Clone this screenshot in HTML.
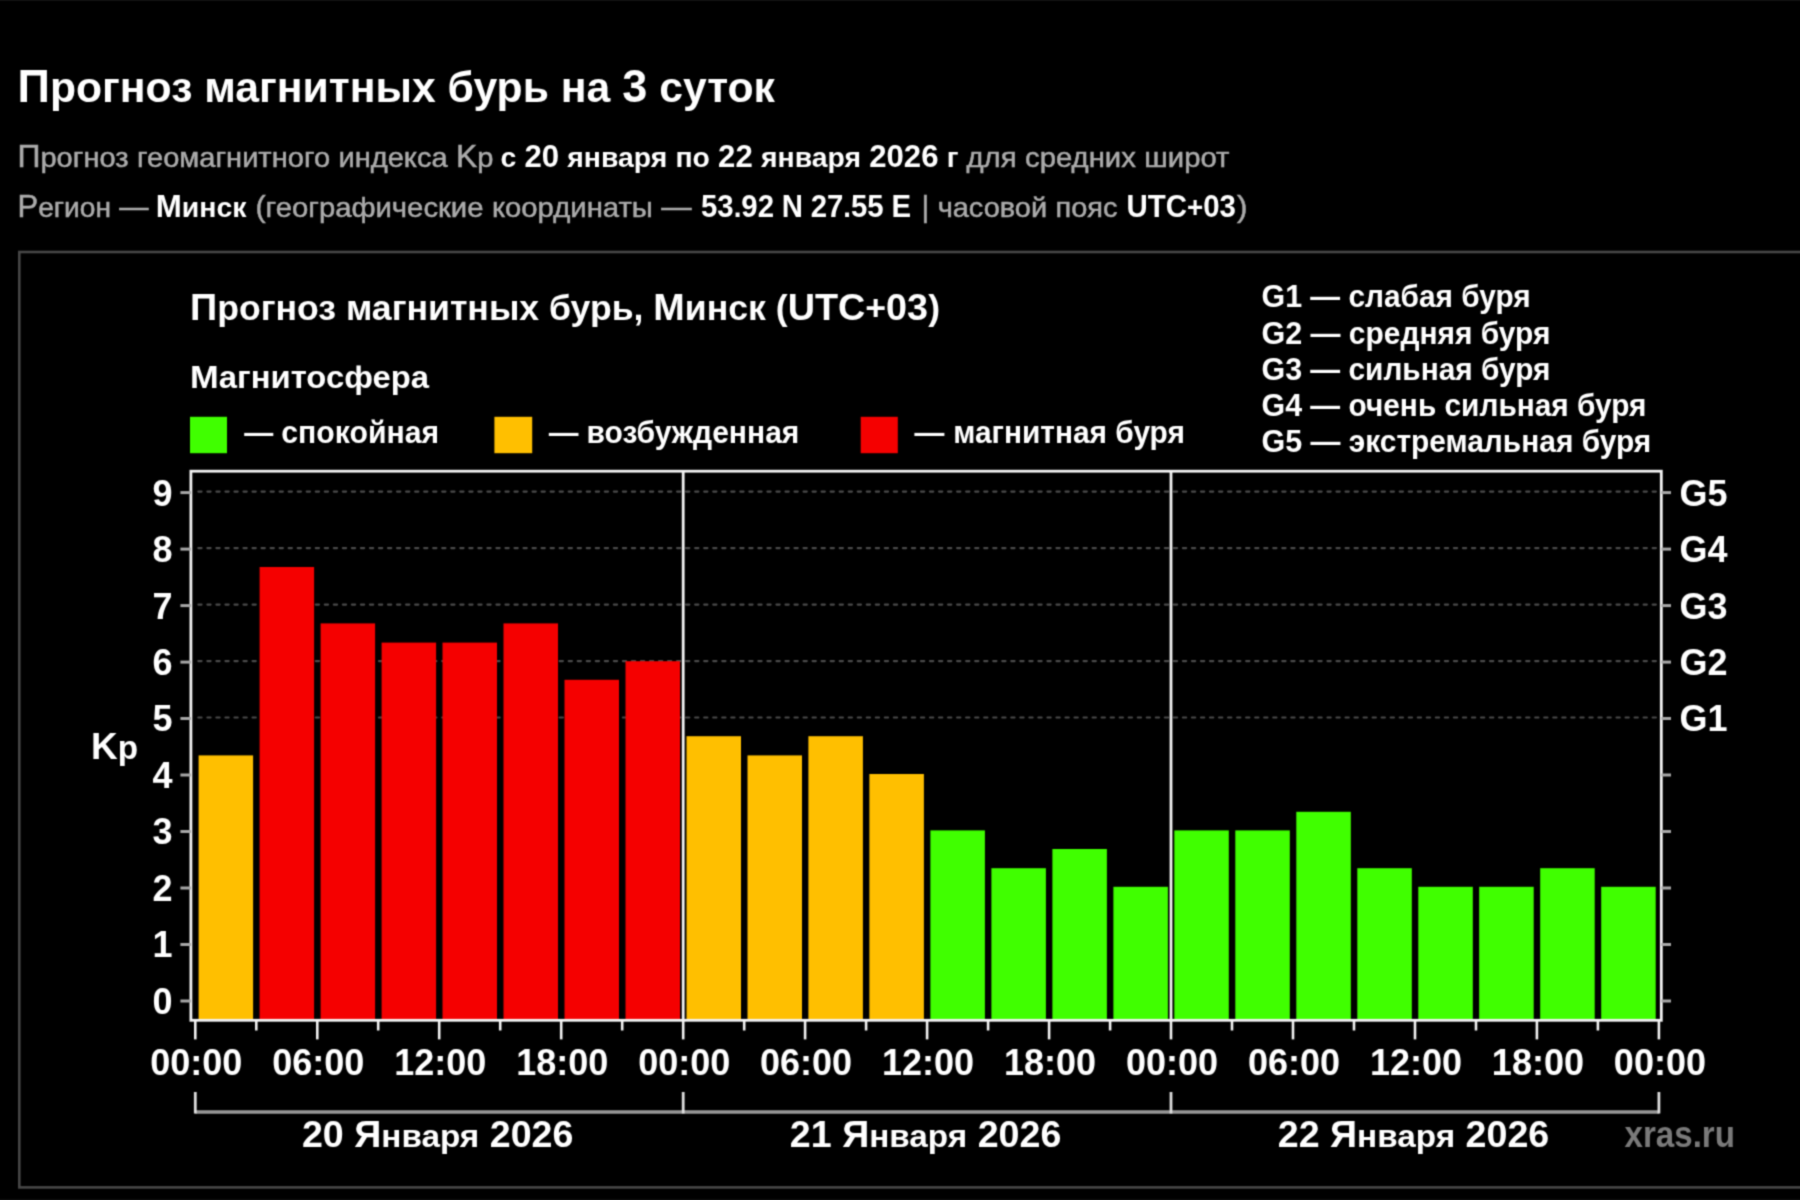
<!DOCTYPE html>
<html lang="ru"><head><meta charset="utf-8"><title>Прогноз магнитных бурь на 3 суток</title>
<style>
html,body{margin:0;padding:0;background:#000;width:1800px;height:1200px;overflow:hidden}
svg{display:block;font-family:'Liberation Sans', Arial, sans-serif;}
</style></head><body>
<svg width="1800" height="1200" viewBox="0 0 1800 1200">
<defs><filter id="soft" x="0" y="0" width="1800" height="1200" filterUnits="userSpaceOnUse" color-interpolation-filters="sRGB"><feConvolveMatrix order="3" kernelMatrix="0.036 0.118 0.036 0.118 0.384 0.118 0.036 0.118 0.036" divisor="1" edgeMode="duplicate"/></filter></defs>
<g filter="url(#soft)">
<rect x="0" y="0" width="1800" height="1200" fill="#000"/>
<rect x="0" y="0" width="1800" height="1" fill="#121212"/>
<rect x="0" y="1199" width="1800" height="1" fill="#0e0e0e"/>
<rect x="19.3" y="252" width="2000" height="935.4" fill="none" stroke="#464646" stroke-width="2.6"/>
<text x="17.5" y="101.8" font-size="43" font-weight="bold" fill="#fff" text-anchor="start" textLength="757.5" lengthAdjust="spacingAndGlyphs"><tspan font-size="45.36">П</tspan>рогноз магнитных бурь на <tspan font-size="45.36">3</tspan> суток</text>
<text x="17.5" y="167.2" font-size="29" font-weight="normal" fill="#ababab" text-anchor="start" textLength="476.0" lengthAdjust="spacingAndGlyphs" stroke="#ababab" stroke-width="0.5"><tspan font-size="30.74">П</tspan><tspan font-size="27.98">рогноз</tspan> <tspan font-size="27.98">геомагнитного</tspan> <tspan font-size="27.98">индекса</tspan> <tspan font-size="30.74">K</tspan><tspan font-size="27.98">p</tspan></text>
<text x="500.5" y="167.2" font-size="29" font-weight="bold" fill="#fff" text-anchor="start" textLength="458.0" lengthAdjust="spacingAndGlyphs"><tspan font-size="27.98">с</tspan> <tspan font-size="30.74">20</tspan> <tspan font-size="27.98">января</tspan> <tspan font-size="27.98">по</tspan> <tspan font-size="30.74">22</tspan> <tspan font-size="27.98">января</tspan> <tspan font-size="30.74">2026</tspan> <tspan font-size="27.98">г</tspan></text>
<text x="966.5" y="167.2" font-size="29" font-weight="normal" fill="#ababab" text-anchor="start" textLength="263.0" lengthAdjust="spacingAndGlyphs" stroke="#ababab" stroke-width="0.5"><tspan font-size="27.98">для</tspan> <tspan font-size="27.98">средних</tspan> <tspan font-size="27.98">широт</tspan></text>
<text x="17.5" y="216.8" font-size="29" font-weight="normal" fill="#ababab" text-anchor="start" textLength="131.0" lengthAdjust="spacingAndGlyphs" stroke="#ababab" stroke-width="0.5"><tspan font-size="30.74">Р</tspan><tspan font-size="27.98">егион</tspan> —</text>
<text x="155.7" y="216.8" font-size="29" font-weight="bold" fill="#fff" text-anchor="start" textLength="90.8" lengthAdjust="spacingAndGlyphs"><tspan font-size="30.74">М</tspan><tspan font-size="27.98">инск</tspan></text>
<text x="255.5" y="216.8" font-size="29" font-weight="normal" fill="#ababab" text-anchor="start" textLength="436.2" lengthAdjust="spacingAndGlyphs" stroke="#ababab" stroke-width="0.5">(<tspan font-size="27.98">географические</tspan> <tspan font-size="27.98">координаты</tspan> —</text>
<text x="701.0" y="216.8" font-size="29" font-weight="bold" fill="#fff" text-anchor="start" textLength="210.0" lengthAdjust="spacingAndGlyphs"><tspan font-size="30.74">53</tspan>.<tspan font-size="30.74">92</tspan> <tspan font-size="30.74">N</tspan> <tspan font-size="30.74">27</tspan>.<tspan font-size="30.74">55</tspan> <tspan font-size="30.74">E</tspan></text>
<text x="921.5" y="216.8" font-size="29" font-weight="normal" fill="#ababab" text-anchor="start" textLength="196.0" lengthAdjust="spacingAndGlyphs" stroke="#ababab" stroke-width="0.5">| <tspan font-size="27.98">часовой</tspan> <tspan font-size="27.98">пояс</tspan></text>
<text x="1126.5" y="216.8" font-size="29" font-weight="bold" fill="#fff" text-anchor="start" textLength="109.5" lengthAdjust="spacingAndGlyphs"><tspan font-size="30.74">UTC</tspan>+<tspan font-size="30.74">03</tspan></text>
<text x="1237.0" y="216.8" font-size="29" font-weight="normal" fill="#ababab" text-anchor="start" textLength="10.5" lengthAdjust="spacingAndGlyphs" stroke="#ababab" stroke-width="0.5">)</text>
<text x="190.0" y="320.0" font-size="35.5" font-weight="bold" fill="#fff" text-anchor="start" textLength="750.0" lengthAdjust="spacingAndGlyphs"><tspan font-size="37.63">П</tspan>рогноз магнитных бурь, <tspan font-size="37.63">М</tspan>инск (<tspan font-size="37.63">UTC</tspan>+<tspan font-size="37.63">03</tspan>)</text>
<text x="190.0" y="388.3" font-size="30.5" font-weight="bold" fill="#fff" text-anchor="start" textLength="239.0" lengthAdjust="spacingAndGlyphs"><tspan font-size="32.02">М</tspan>агнитосфера</text>
<rect x="190" y="416.8" width="37.0" height="36.4" fill="#40ff00"/>
<rect x="494.4" y="416.8" width="37.8" height="36.4" fill="#ffbf00"/>
<rect x="860.7" y="416.8" width="37.1" height="36.4" fill="#f50000"/>
<rect x="244.2" y="432.9" width="29.1" height="3.1" fill="#fff"/>
<text x="281.3" y="442.5" font-size="31" font-weight="bold" fill="#fff" text-anchor="start" textLength="157.8" lengthAdjust="spacingAndGlyphs">спокойная</text>
<rect x="548.8" y="432.9" width="29.7" height="3.1" fill="#fff"/>
<text x="586.4" y="442.5" font-size="31" font-weight="bold" fill="#fff" text-anchor="start" textLength="213.0" lengthAdjust="spacingAndGlyphs">возбужденная</text>
<rect x="914.4" y="432.9" width="30.0" height="3.1" fill="#fff"/>
<text x="953.2" y="442.5" font-size="31" font-weight="bold" fill="#fff" text-anchor="start" textLength="231.7" lengthAdjust="spacingAndGlyphs">магнитная буря</text>
<text x="1261.5" y="307.4" font-size="30.5" font-weight="bold" fill="#fff" text-anchor="start" textLength="269.2" lengthAdjust="spacingAndGlyphs"><tspan font-size="31.11">G1</tspan> — слабая буря</text>
<text x="1261.5" y="343.5" font-size="30.5" font-weight="bold" fill="#fff" text-anchor="start" textLength="289.0" lengthAdjust="spacingAndGlyphs"><tspan font-size="31.11">G2</tspan> — средняя буря</text>
<text x="1261.5" y="379.6" font-size="30.5" font-weight="bold" fill="#fff" text-anchor="start" textLength="289.0" lengthAdjust="spacingAndGlyphs"><tspan font-size="31.11">G3</tspan> — сильная буря</text>
<text x="1261.5" y="415.7" font-size="30.5" font-weight="bold" fill="#fff" text-anchor="start" textLength="385.0" lengthAdjust="spacingAndGlyphs"><tspan font-size="31.11">G4</tspan> — очень сильная буря</text>
<text x="1261.5" y="451.8" font-size="30.5" font-weight="bold" fill="#fff" text-anchor="start" textLength="389.8" lengthAdjust="spacingAndGlyphs"><tspan font-size="31.11">G5</tspan> — экстремальная буря</text>
<line x1="198.35" y1="717.5" x2="1657.3" y2="717.5" stroke="#4a4a4a" stroke-width="2.2" stroke-linecap="round" stroke-dasharray="3.2 5.833"/>
<line x1="198.35" y1="661.1" x2="1657.3" y2="661.1" stroke="#4a4a4a" stroke-width="2.2" stroke-linecap="round" stroke-dasharray="3.2 5.833"/>
<line x1="198.35" y1="604.6" x2="1657.3" y2="604.6" stroke="#4a4a4a" stroke-width="2.2" stroke-linecap="round" stroke-dasharray="3.2 5.833"/>
<line x1="198.35" y1="548.1" x2="1657.3" y2="548.1" stroke="#4a4a4a" stroke-width="2.2" stroke-linecap="round" stroke-dasharray="3.2 5.833"/>
<line x1="198.35" y1="491.6" x2="1657.3" y2="491.6" stroke="#4a4a4a" stroke-width="2.2" stroke-linecap="round" stroke-dasharray="3.2 5.833"/>
<rect x="198.6" y="755.4" width="54.5" height="263.6" fill="#ffbf00"/>
<rect x="259.6" y="567.0" width="54.5" height="452.0" fill="#f50000"/>
<rect x="320.6" y="623.4" width="54.5" height="395.6" fill="#f50000"/>
<rect x="381.6" y="642.6" width="54.5" height="376.4" fill="#f50000"/>
<rect x="442.5" y="642.6" width="54.5" height="376.4" fill="#f50000"/>
<rect x="503.5" y="623.4" width="54.5" height="395.6" fill="#f50000"/>
<rect x="564.5" y="679.8" width="54.5" height="339.2" fill="#f50000"/>
<rect x="625.5" y="661.2" width="54.5" height="357.8" fill="#f50000"/>
<rect x="686.5" y="736.2" width="54.5" height="282.8" fill="#ffbf00"/>
<rect x="747.5" y="755.4" width="54.5" height="263.6" fill="#ffbf00"/>
<rect x="808.4" y="736.2" width="54.5" height="282.8" fill="#ffbf00"/>
<rect x="869.4" y="774.0" width="54.5" height="245.0" fill="#ffbf00"/>
<rect x="930.4" y="830.4" width="54.5" height="188.6" fill="#40ff00"/>
<rect x="991.4" y="868.2" width="54.5" height="150.8" fill="#40ff00"/>
<rect x="1052.4" y="849.0" width="54.5" height="170.0" fill="#40ff00"/>
<rect x="1113.4" y="886.8" width="54.5" height="132.2" fill="#40ff00"/>
<rect x="1174.3" y="830.4" width="54.5" height="188.6" fill="#40ff00"/>
<rect x="1235.3" y="830.4" width="54.5" height="188.6" fill="#40ff00"/>
<rect x="1296.3" y="811.8" width="54.5" height="207.2" fill="#40ff00"/>
<rect x="1357.3" y="868.2" width="54.5" height="150.8" fill="#40ff00"/>
<rect x="1418.3" y="886.8" width="54.5" height="132.2" fill="#40ff00"/>
<rect x="1479.2" y="886.8" width="54.5" height="132.2" fill="#40ff00"/>
<rect x="1540.2" y="868.2" width="54.5" height="150.8" fill="#40ff00"/>
<rect x="1601.2" y="886.8" width="54.5" height="132.2" fill="#40ff00"/>
<line x1="683.2" y1="471.2" x2="683.2" y2="1020.3" stroke="#f2f2f2" stroke-width="2.8"/>
<line x1="1171.0" y1="471.2" x2="1171.0" y2="1020.3" stroke="#f2f2f2" stroke-width="2.8"/>
<rect x="190.9" y="471.2" width="1470.4" height="549.1" fill="none" stroke="#f2f2f2" stroke-width="2.8"/>
<line x1="180.4" y1="1001.0" x2="190.9" y2="1001.0" stroke="#a6a6a6" stroke-width="3"/>
<line x1="1661.3" y1="1001.0" x2="1671" y2="1001.0" stroke="#a6a6a6" stroke-width="3"/>
<text x="172.5" y="1013.9" font-size="36" font-weight="bold" fill="#fff" text-anchor="end">0</text>
<line x1="180.4" y1="944.5" x2="190.9" y2="944.5" stroke="#a6a6a6" stroke-width="3"/>
<line x1="1661.3" y1="944.5" x2="1671" y2="944.5" stroke="#a6a6a6" stroke-width="3"/>
<text x="172.5" y="957.4" font-size="36" font-weight="bold" fill="#fff" text-anchor="end">1</text>
<line x1="180.4" y1="888.0" x2="190.9" y2="888.0" stroke="#a6a6a6" stroke-width="3"/>
<line x1="1661.3" y1="888.0" x2="1671" y2="888.0" stroke="#a6a6a6" stroke-width="3"/>
<text x="172.5" y="900.9" font-size="36" font-weight="bold" fill="#fff" text-anchor="end">2</text>
<line x1="180.4" y1="831.5" x2="190.9" y2="831.5" stroke="#a6a6a6" stroke-width="3"/>
<line x1="1661.3" y1="831.5" x2="1671" y2="831.5" stroke="#a6a6a6" stroke-width="3"/>
<text x="172.5" y="844.4" font-size="36" font-weight="bold" fill="#fff" text-anchor="end">3</text>
<line x1="180.4" y1="775.0" x2="190.9" y2="775.0" stroke="#a6a6a6" stroke-width="3"/>
<line x1="1661.3" y1="775.0" x2="1671" y2="775.0" stroke="#a6a6a6" stroke-width="3"/>
<text x="172.5" y="787.9" font-size="36" font-weight="bold" fill="#fff" text-anchor="end">4</text>
<line x1="180.4" y1="718.5" x2="190.9" y2="718.5" stroke="#a6a6a6" stroke-width="3"/>
<line x1="1661.3" y1="718.5" x2="1671" y2="718.5" stroke="#a6a6a6" stroke-width="3"/>
<text x="172.5" y="731.4" font-size="36" font-weight="bold" fill="#fff" text-anchor="end">5</text>
<line x1="180.4" y1="662.1" x2="190.9" y2="662.1" stroke="#a6a6a6" stroke-width="3"/>
<line x1="1661.3" y1="662.1" x2="1671" y2="662.1" stroke="#a6a6a6" stroke-width="3"/>
<text x="172.5" y="675.0" font-size="36" font-weight="bold" fill="#fff" text-anchor="end">6</text>
<line x1="180.4" y1="605.6" x2="190.9" y2="605.6" stroke="#a6a6a6" stroke-width="3"/>
<line x1="1661.3" y1="605.6" x2="1671" y2="605.6" stroke="#a6a6a6" stroke-width="3"/>
<text x="172.5" y="618.5" font-size="36" font-weight="bold" fill="#fff" text-anchor="end">7</text>
<line x1="180.4" y1="549.1" x2="190.9" y2="549.1" stroke="#a6a6a6" stroke-width="3"/>
<line x1="1661.3" y1="549.1" x2="1671" y2="549.1" stroke="#a6a6a6" stroke-width="3"/>
<text x="172.5" y="562.0" font-size="36" font-weight="bold" fill="#fff" text-anchor="end">8</text>
<line x1="180.4" y1="492.6" x2="190.9" y2="492.6" stroke="#a6a6a6" stroke-width="3"/>
<line x1="1661.3" y1="492.6" x2="1671" y2="492.6" stroke="#a6a6a6" stroke-width="3"/>
<text x="172.5" y="505.5" font-size="36" font-weight="bold" fill="#fff" text-anchor="end">9</text>
<text x="1679.5" y="731.4" font-size="36" font-weight="bold" fill="#fff" text-anchor="start">G1</text>
<text x="1679.5" y="675.0" font-size="36" font-weight="bold" fill="#fff" text-anchor="start">G2</text>
<text x="1679.5" y="618.5" font-size="36" font-weight="bold" fill="#fff" text-anchor="start">G3</text>
<text x="1679.5" y="562.0" font-size="36" font-weight="bold" fill="#fff" text-anchor="start">G4</text>
<text x="1679.5" y="505.5" font-size="36" font-weight="bold" fill="#fff" text-anchor="start">G5</text>
<text x="91.0" y="759.0" font-size="36" font-weight="bold" fill="#fff" text-anchor="start" textLength="47.0" lengthAdjust="spacingAndGlyphs">K<tspan font-size="32.40">p</tspan></text>
<line x1="195.3" y1="1020.3" x2="195.3" y2="1039.4" stroke="#f2f2f2" stroke-width="2.6"/>
<text x="196.3" y="1074.5" font-size="36" font-weight="bold" fill="#fff" text-anchor="middle">00:00</text>
<line x1="256.3" y1="1020.3" x2="256.3" y2="1030.5" stroke="#f2f2f2" stroke-width="2.6"/>
<line x1="317.3" y1="1020.3" x2="317.3" y2="1039.4" stroke="#f2f2f2" stroke-width="2.6"/>
<text x="318.3" y="1074.5" font-size="36" font-weight="bold" fill="#fff" text-anchor="middle">06:00</text>
<line x1="378.2" y1="1020.3" x2="378.2" y2="1030.5" stroke="#f2f2f2" stroke-width="2.6"/>
<line x1="439.2" y1="1020.3" x2="439.2" y2="1039.4" stroke="#f2f2f2" stroke-width="2.6"/>
<text x="440.2" y="1074.5" font-size="36" font-weight="bold" fill="#fff" text-anchor="middle">12:00</text>
<line x1="500.2" y1="1020.3" x2="500.2" y2="1030.5" stroke="#f2f2f2" stroke-width="2.6"/>
<line x1="561.2" y1="1020.3" x2="561.2" y2="1039.4" stroke="#f2f2f2" stroke-width="2.6"/>
<text x="562.2" y="1074.5" font-size="36" font-weight="bold" fill="#fff" text-anchor="middle">18:00</text>
<line x1="622.2" y1="1020.3" x2="622.2" y2="1030.5" stroke="#f2f2f2" stroke-width="2.6"/>
<line x1="683.2" y1="1020.3" x2="683.2" y2="1039.4" stroke="#f2f2f2" stroke-width="2.6"/>
<text x="684.2" y="1074.5" font-size="36" font-weight="bold" fill="#fff" text-anchor="middle">00:00</text>
<line x1="744.2" y1="1020.3" x2="744.2" y2="1030.5" stroke="#f2f2f2" stroke-width="2.6"/>
<line x1="805.1" y1="1020.3" x2="805.1" y2="1039.4" stroke="#f2f2f2" stroke-width="2.6"/>
<text x="806.1" y="1074.5" font-size="36" font-weight="bold" fill="#fff" text-anchor="middle">06:00</text>
<line x1="866.1" y1="1020.3" x2="866.1" y2="1030.5" stroke="#f2f2f2" stroke-width="2.6"/>
<line x1="927.1" y1="1020.3" x2="927.1" y2="1039.4" stroke="#f2f2f2" stroke-width="2.6"/>
<text x="928.1" y="1074.5" font-size="36" font-weight="bold" fill="#fff" text-anchor="middle">12:00</text>
<line x1="988.1" y1="1020.3" x2="988.1" y2="1030.5" stroke="#f2f2f2" stroke-width="2.6"/>
<line x1="1049.1" y1="1020.3" x2="1049.1" y2="1039.4" stroke="#f2f2f2" stroke-width="2.6"/>
<text x="1050.1" y="1074.5" font-size="36" font-weight="bold" fill="#fff" text-anchor="middle">18:00</text>
<line x1="1110.1" y1="1020.3" x2="1110.1" y2="1030.5" stroke="#f2f2f2" stroke-width="2.6"/>
<line x1="1171.0" y1="1020.3" x2="1171.0" y2="1039.4" stroke="#f2f2f2" stroke-width="2.6"/>
<text x="1172.0" y="1074.5" font-size="36" font-weight="bold" fill="#fff" text-anchor="middle">00:00</text>
<line x1="1232.0" y1="1020.3" x2="1232.0" y2="1030.5" stroke="#f2f2f2" stroke-width="2.6"/>
<line x1="1293.0" y1="1020.3" x2="1293.0" y2="1039.4" stroke="#f2f2f2" stroke-width="2.6"/>
<text x="1294.0" y="1074.5" font-size="36" font-weight="bold" fill="#fff" text-anchor="middle">06:00</text>
<line x1="1354.0" y1="1020.3" x2="1354.0" y2="1030.5" stroke="#f2f2f2" stroke-width="2.6"/>
<line x1="1415.0" y1="1020.3" x2="1415.0" y2="1039.4" stroke="#f2f2f2" stroke-width="2.6"/>
<text x="1416.0" y="1074.5" font-size="36" font-weight="bold" fill="#fff" text-anchor="middle">12:00</text>
<line x1="1476.0" y1="1020.3" x2="1476.0" y2="1030.5" stroke="#f2f2f2" stroke-width="2.6"/>
<line x1="1536.9" y1="1020.3" x2="1536.9" y2="1039.4" stroke="#f2f2f2" stroke-width="2.6"/>
<text x="1537.9" y="1074.5" font-size="36" font-weight="bold" fill="#fff" text-anchor="middle">18:00</text>
<line x1="1597.9" y1="1020.3" x2="1597.9" y2="1030.5" stroke="#f2f2f2" stroke-width="2.6"/>
<line x1="1658.9" y1="1020.3" x2="1658.9" y2="1039.4" stroke="#f2f2f2" stroke-width="2.6"/>
<text x="1659.9" y="1074.5" font-size="36" font-weight="bold" fill="#fff" text-anchor="middle">00:00</text>
<line x1="195.3" y1="1112" x2="683.2" y2="1112" stroke="#979797" stroke-width="3.6"/>
<text x="437.7" y="1147.0" font-size="36" font-weight="bold" fill="#fff" text-anchor="middle" textLength="271.5" lengthAdjust="spacingAndGlyphs">20 Я<tspan font-size="31.86">нваря</tspan> 2026</text>
<line x1="683.2" y1="1112" x2="1171.0" y2="1112" stroke="#979797" stroke-width="3.6"/>
<text x="925.6" y="1147.0" font-size="36" font-weight="bold" fill="#fff" text-anchor="middle" textLength="271.5" lengthAdjust="spacingAndGlyphs">21 Я<tspan font-size="31.86">нваря</tspan> 2026</text>
<line x1="1171.0" y1="1112" x2="1658.9" y2="1112" stroke="#979797" stroke-width="3.6"/>
<text x="1413.5" y="1147.0" font-size="36" font-weight="bold" fill="#fff" text-anchor="middle" textLength="271.5" lengthAdjust="spacingAndGlyphs">22 Я<tspan font-size="31.86">нваря</tspan> 2026</text>
<line x1="195.3" y1="1092" x2="195.3" y2="1113.5" stroke="#dcdcdc" stroke-width="2.8"/>
<line x1="683.2" y1="1092" x2="683.2" y2="1113.5" stroke="#dcdcdc" stroke-width="2.8"/>
<line x1="1171.0" y1="1092" x2="1171.0" y2="1113.5" stroke="#dcdcdc" stroke-width="2.8"/>
<line x1="1658.9" y1="1092" x2="1658.9" y2="1113.5" stroke="#dcdcdc" stroke-width="2.8"/>
<text x="1624.5" y="1146.9" font-size="36.5" font-weight="bold" fill="#7a7a7a" text-anchor="start" textLength="110.5" lengthAdjust="spacingAndGlyphs">xras.ru</text>
</g>
</svg>
</body></html>
